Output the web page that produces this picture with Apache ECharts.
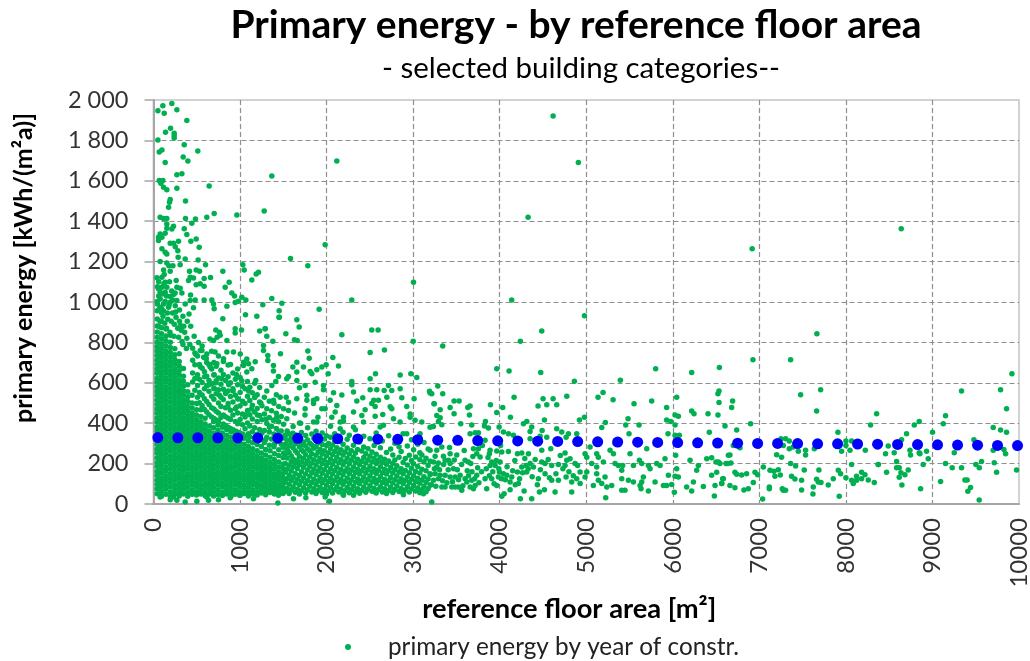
<!DOCTYPE html>
<html><head><meta charset="utf-8">
<script src="https://cdn.jsdelivr.net/npm/echarts@6/dist/echarts.min.js"></script>
<style>html,body{margin:0;padding:0;background:#fff}#c{width:1030px;height:661px}</style>
</head><body><div id="c"></div>
<script>
const trendArea=[50,281,512,743,974,1205,1436,1667,1898,2129,2360,2591,2822,3053,3284,3515,3746,3977,4208,4439,4670,4901,5132,5363,5594,5825,6056,6287,6518,6749,6980,7211,7442,7673,7904,8135,8366,8597,8828,9059,9290,9521,9752,9983];
const trendEnergy=[329,328,328,328,327,327,326,325,324,323,322,321,320,318,316,315,314,313,312,311,310,309,308,307,306,305,304,303,302,301,300,300,299,298,298,297,296,295,294,293,292,291,290,289];
const coreColumns=[
[43,[51,74,96,117,141,161,186,205,229,252,271,295,315,339,361,381,405,426,449,470,493,513,537,558,581,603,623,647,668,691,712,735,757,778,801,826,852,881,916,957,1003]],
[92,[38,62,85,107,129,152,172,196,216,240,261,283,306,327,351,371,394,415,438,459,482,504,526,548,570,592,614,636,658,681,702,725,747,770,793,818,843,873,905,948]],
[143,[48,73,95,118,140,163,183,207,227,250,272,294,316,338,360,382,404,427,449,471,493,515,537,560,581,604,625,648,669,691,714,737,759,783,808,832,866]],
[194,[37,60,84,106,128,150,173,195,217,239,262,283,305,328,349,372,394,416,438,460,482,505,527,549,571,593,615,637,660,682,704,727,750,775,801,836]],
[246,[49,72,94,117,139,161,184,206,228,250,273,294,316,339,361,382,405,427,449,471,494,515,537,559,582,604,626,648,670,693,715,739,768]],
[297,[40,61,83,105,128,150,172,194,216,238,261,283,305,327,349,371,393,416,438,460,482,504,527,549,571,593,615,638,660,683,706,744]],
[346,[50,73,95,116,139,162,183,205,227,250,272,293,315,338,360,382,404,426,449,471,493,515,538,561,584,608,633,671]],
[396,[38,60,83,106,127,149,172,194,216,239,260,282,305,326,349,371,394,416,438,461,483,507,531,556,590]],
[446,[48,71,94,116,138,161,182,205,227,249,271,293,316,338,360,382,405,428,451,475,500,538]],
[497,[44,61,84,105,127,150,172,194,216,238,260,283,305,327,349,371,394,417,441,466,498]],
[547,[49,72,94,117,138,160,183,205,227,249,272,294,316,338,361,384,407,433,466]],
[596,[41,60,83,105,128,149,171,194,216,238,260,282,304,327,349,372,396,424]],
[646,[50,72,95,116,139,161,183,205,227,250,271,294,316,338,361,386]],
[695,[39,61,83,106,127,150,172,194,216,238,260,283,305,327,350,377,408]],
[745,[47,71,94,116,138,160,183,205,227,249,272,293,316,339,364,391]],
[796,[42,60,84,105,128,150,171,194,216,238,260,282,305,328,352,380]],
[846,[50,72,94,117,139,161,182,205,227,249,271,294,316,340,369]],
[895,[38,61,83,106,127,150,172,193,216,238,261,283,306,331,358]],
[945,[48,71,95,116,138,160,183,205,226,249,272,294,317,345]],
[996,[43,60,83,105,128,149,171,194,216,238,260,283,307,334]],
[1046,[52,72,94,117,139,161,183,205,227,250,272,296,325]],
[1096,[40,60,83,106,128,150,172,194,216,239,261,285,312,348]],
[1146,[50,71,95,116,138,160,183,205,228,250,274,303]],
[1197,[45,61,84,105,127,149,172,194,216,239,263,294]],
[1246,[54,72,94,117,139,161,183,205,228,252,285]],
[1296,[46,62,83,106,128,150,172,194,217,242,270,318]],
[1346,[57,73,95,116,138,161,183,206,231,263]],
[1396,[50,64,84,105,127,149,172,195,220,249,296]],
[1447,[60,75,95,117,139,160,183,208,240]],
[1497,[52,66,86,106,128,150,174,197,229,281]]
];
const shoulderColumns=[
[452,[604,648,712,771]],[478,[563,621,689,748]],[509,[528,587,640,733]],[531,[501,552,618,690]],[562,[487,540,601,672,782]],[589,[468,521,570,655,724]],[615,[455,507,585,633,700]],[641,[442,493,558,612,689]],[672,[431,476,533,597,668,756]],[698,[423,470,518,574,638,701]],[724,[416,459,546,610,682]],[751,[409,450,500,566,624,733]],[779,[428,483,529,593,662]],[807,[396,441,517,568,641,705]],[833,[388,432,476,547,611]],[862,[380,425,498,559,630,688]],[889,[374,418,464,532,600]],[918,[368,441,505,571,648]],[946,[362,409,472,538,617]],[972,[356,397,451,521,590,668]],[1001,[350,418,486,552,626]],[1029,[346,392,445,509,583]],[1058,[372,431,497,571]],[1086,[338,401,463,534,606]],[1113,[332,386,442,512,578]],[1142,[358,421,489,551]],[1169,[327,377,455,527,598]],[1198,[345,409,473,541]],[1226,[318,369,438,505,577]],[1253,[352,417,486]],[1281,[304,364,446,528]],[1309,[331,399,471,560]],[1338,[291,356,428,509]],[1364,[322,385,462]],[1392,[283,347,416,499]],[1419,[309,374,449,541]],[1447,[268,338,407,483]],[1476,[296,361,433]],[1503,[252,327,395,472]]
];
const fringeColumns=[
[1522,[63,108,159,201,247,296,338]],[1544,[77,126,173,228,271,315,362]],[1567,[52,98,144,192,255,288,347]],[1591,[69,118,165,211,239,304,326]],[1613,[84,133,185,223,278,319,384]],[1638,[58,104,151,202,263,298,343]],[1661,[73,122,176,216,252,311]],[1686,[49,95,141,196,235,284,332,401]],[1709,[66,113,160,208,268,293,354]],[1733,[81,129,182,226,259,307]],[1758,[55,101,148,199,244,287,339]],[1781,[70,116,168,214,272,317,378]],[1806,[88,137,186,231,263,301]],[1829,[60,107,155,203,249,292,346]],[1853,[75,123,172,219,276,325]],[1878,[52,97,146,193,241,285,360]],[1902,[67,114,163,210,257,303,335]],[1925,[83,131,179,227,270,316]],[1949,[57,105,152,201,248,295,352]],[1973,[72,120,169,217,264,322]],[1998,[48,93,140,191,238,289,338]],[2022,[65,111,158,206,254,299]],[2046,[80,128,175,223,274,330,385]],[2069,[55,102,149,197,245,292]],[2094,[70,118,166,213,260,309,348]],[2118,[86,134,182,231,279]],[2141,[59,106,153,204,252,326]],[2166,[74,122,171,219,268]],[2190,[50,98,145,194,242,296,355]],[2213,[66,113,162,209,258]],[2238,[82,129,177,226,277,320]],[2262,[56,103,151,199,247,340]],[2285,[71,119,167,216,264]],[2310,[88,136,183,233,291]],[2333,[61,108,156,204,253,368]],[2358,[76,124,172,221,270]],[2381,[53,100,148,196,307]],[2406,[68,116,164,212,262]],[2429,[84,132,181,230,282,335]],[2453,[58,105,154,203,249]],[2478,[73,121,169,218,274]],[2501,[90,138,186,237,323]],[2525,[63,110,159,208,258]],[2549,[78,126,175,225,290]],[2573,[55,103,151,200,246,352]],[2597,[70,118,167,215]],[2621,[86,135,184,232,279]],[2644,[60,107,155,205,312]],[2669,[75,123,172,221]],[2692,[52,99,148,197,255]],[2717,[67,115,164,213,338]],[2740,[83,131,181,272]],[2765,[57,104,153,201,243]],[2789,[72,120,169,218,301]],[2812,[89,138,188]],[2837,[62,110,158,232,284]],[2861,[77,125,174,260]],[2884,[54,101,150,206,348]],[2909,[69,117,166,225]],[2933,[85,134,193,287]],[2956,[59,106,155,241]],[2981,[74,122,177,215,318]],[3005,[91,140,199,268]],[3029,[64,112,161,233]],[3053,[79,127,186,296]],[3077,[56,103,154,219,254]],[3101,[71,119,172,243]],[3125,[87,135,208,305]],[3149,[61,108,165,227]],[3173,[76,124,191,272]],[3197,[94,146,212]]
];
const upperPoints=[[212,1983],[108,1972],[51,1947],[124,1934],[270,1952],[385,1898],[197,1860],[139,1840],[239,1835],[239,1823],[239,1812],[51,1802],[355,1779],[512,1748],[97,1752],[66,1743],[343,1718],[397,1698],[135,1691],[2118,1698],[328,1635],[270,1630],[1367,1624],[66,1601],[108,1601],[85,1588],[116,1568],[154,1556],[270,1563],[643,1574],[193,1508],[185,1494],[370,1500],[174,1469],[1279,1451],[701,1438],[963,1431],[616,1419],[77,1419],[116,1413],[154,1413],[370,1413],[485,1411],[443,1390],[154,1386],[231,1375],[212,1362],[154,1365],[355,1363],[385,1334],[135,1340],[77,1337],[58,1320],[97,1320],[493,1312],[432,1301],[58,1304],[289,1301],[193,1291],[231,1291],[251,1274],[528,1271],[97,1263],[135,1246],[281,1254],[154,1238],[285,1221],[366,1213],[516,1208],[1583,1215],[1983,1284],[77,1200],[154,1193],[178,1180],[224,1180],[308,1185],[601,1184],[1032,1185],[1048,1159],[1783,1179],[116,1159],[193,1152],[416,1152],[493,1159],[532,1152],[801,1152],[1213,1147],[1186,1139],[124,1136],[97,1123],[424,1123],[462,1119],[405,1106],[585,1116],[659,1121],[1136,1109],[262,1106],[135,1098],[874,1098],[828,1073],[3004,1098],[493,1085],[539,1090],[585,1078],[308,1068],[58,1065],[97,1073],[154,1073],[270,1073],[905,1045],[936,1030],[428,1035],[231,1037],[328,1045],[77,1048],[135,1048],[193,1027],[1021,1024],[585,1010],[674,1010],[1067,1010],[1367,1017],[2291,1010],[1483,994],[1263,987],[982,1004],[944,997],[424,1007],[482,1010],[366,990],[848,979],[693,990],[701,966],[1914,964],[1452,957],[77,1015],[116,990],[174,974],[251,982],[462,971],[77,974],[270,1007],[193,999],[135,1002],[300,960],[340,930],[390,905],[430,880],[310,885],[260,925],[410,940],[360,850],[470,830],[520,800],[420,790],[560,760],[610,720],[490,740],[650,690],[540,680],[590,630],[700,640],[640,590],[720,600],[60,880],[75,905],[110,930],[130,895],[165,915],[205,905],[240,890],[280,870],[320,860],[60,1030],[100,1040],[150,1030],[210,1055],[250,1045],[120,1090],[70,965],[115,955],[160,945],[220,945],[95,965],[150,870],[190,850],[235,830],[290,825],[330,805],[385,820],[340,790],[45,1075],[45,990],[180,985],[40,1120],[60,1100],[185,1100],[220,1010],[255,950],[300,905],[350,880],[380,770]];
const midPoints=[[1063,937],[1194,930],[1452,925],[1452,925],[1656,912],[1683,876],[801,917],[1290,867],[1227,856],[1290,868],[1017,862],[944,867],[944,846],[1309,831],[1529,843],[1629,813],[1660,810],[1379,806],[2176,838],[2522,862],[2595,862],[3000,806],[1783,757],[1467,744],[2503,750],[2668,762],[1271,785],[1271,760],[1799,721],[2072,725],[1321,735],[1321,711],[1656,702],[1610,678],[1733,678],[2137,683],[1995,689],[1386,686],[1386,658],[1810,656],[1829,645],[1887,665],[1945,678],[2018,645],[1656,653],[1444,631],[1540,620],[1560,631],[2565,645],[2503,620],[2850,638],[2973,645],[3042,626],[1175,704],[1078,718],[1098,694],[1040,702],[1040,686],[1136,670],[1078,653],[1182,612],[1656,612],[1413,607],[1367,587],[1868,603],[1752,587],[1964,587],[1964,566],[2291,606],[2291,590],[1687,575],[2080,551],[2503,566],[2580,566],[2715,587],[2665,562],[2753,562],[2850,570],[3189,558],[3215,546],[2176,539],[2311,554],[2418,526],[2349,510],[2545,513],[2522,497],[2561,483],[2599,513],[2869,526],[2696,529],[3011,521],[3242,496],[2926,483],[2735,481],[2753,471],[1656,521],[1772,538],[1772,513],[1849,513],[1887,521],[1849,497],[1752,472],[2041,513],[2118,488],[1945,472],[1983,472],[1533,529],[1463,529],[1386,513],[1560,504],[1560,463],[2060,430],[2099,455],[2311,455],[2445,467],[2195,430],[2195,410],[2157,406],[2407,438],[2426,406],[2561,434],[2649,443],[2773,422],[2849,406],[2965,446],[2965,430],[3022,414],[3100,406],[3273,438],[2657,390],[2619,381],[2311,381],[2157,373],[1849,406],[1887,406],[3195,380],[3234,384],[2926,348],[3080,348],[1425,430],[1386,413],[1540,422],[1630,450],[1700,400],[1750,440],[1900,430],[720,861],[760,850],[770,835],[735,825],[695,810],[653,817],[848,810],[540,760],[580,726],[616,743],[712,752],[848,752],[924,752],[809,719],[732,694],[655,678],[1002,743],[890,690],[960,640],[1020,610],[870,590],[790,620],[700,570],[760,540],[920,560],[980,520],[1100,560],[1170,530],[1240,500],[1130,470],[1060,440],[960,480],[860,480],[1300,420],[1200,440],[1340,380],[1450,360],[1520,340],[1610,350]];
const lowerPoints=[[4979,932],[4486,856],[4239,806],[3342,782],[3966,670],[4108,658],[4474,651],[4863,608],[5394,613],[5802,670],[6218,651],[6538,676],[3285,584],[3196,549],[3342,546],[4166,528],[4501,521],[4617,521],[4775,533],[5194,552],[5136,528],[5310,516],[5756,510],[5552,496],[6045,528],[6534,559],[6522,546],[6534,503],[3473,510],[3531,510],[3242,496],[4443,485],[4544,491],[4659,491],[3893,491],[3658,485],[3631,478],[3427,478],[4035,478],[3312,467],[3966,453],[3473,447],[3650,440],[5929,478],[6218,460],[6245,447],[6407,447],[6522,440],[6026,440],[6064,434],[4124,429],[3312,427],[3292,409],[4517,416],[4921,416],[4979,429],[5483,422],[5929,416],[5976,409],[3550,397],[3835,409],[4313,409],[4274,397],[3677,391],[3824,386],[3870,376],[3993,381],[4370,381],[4351,359],[4490,364],[5221,404],[5179,379],[5456,391],[5610,391],[6026,391],[6603,386],[4659,373],[4717,356],[4794,348],[4890,348],[3227,384],[3331,392],[5945,348],[6026,340],[6076,340],[6422,355],[5494,348],[3658,348],[3716,353],[3754,353],[4043,356],[4101,348],[4159,340],[4544,331],[4467,336],[4351,323],[4767,331],[3427,249],[3504,242],[3331,282],[3273,266],[3196,266],[3254,237],[3350,237],[3427,200],[3235,208],[3292,203],[3369,216],[3408,216],[3273,183],[3196,150],[3254,150],[3312,142],[3369,142],[3235,117],[3292,125],[3331,84],[3369,84],[3466,175],[3427,134],[3485,134],[3543,142],[3446,84],[3485,84],[3523,84],[3562,68],[3600,125],[3620,109],[3658,84],[3697,76],[3677,117],[3716,92],[3735,142],[3639,208],[3600,216],[3666,200],[3774,233],[3735,249],[3697,274],[3754,274],[3831,315],[3831,125],[3908,125],[3850,76],[3889,266],[3966,262],[3881,249],[4024,257],[3908,208],[3889,191],[4004,208],[3947,191],[3997,158],[4043,150],[4082,142],[4139,134],[4120,109],[3985,134],[4024,125],[3966,92],[4051,51],[4024,38],[4120,71],[4216,101],[4282,64],[4239,26],[4370,26],[4459,59],[4517,71],[4640,59],[4832,59],[4205,158],[4255,183],[4305,191],[4351,200],[4205,249],[4255,252],[4332,249],[4486,266],[4590,274],[4755,252],[4486,208],[4524,200],[4601,191],[4678,196],[4775,216],[4813,224],[4871,200],[4755,191],[4312,158],[4390,183],[4447,125],[4524,150],[4601,117],[4678,117],[4767,134],[4890,125],[4832,109],[4929,158],[5006,158],[4986,134],[4929,101],[5082,92],[5121,150],[5140,117],[5179,101],[5217,134],[5237,84],[5294,92],[5225,31],[5410,68],[5448,68],[5410,125],[5487,117],[5545,109],[5622,92],[5633,76],[5718,64],[5795,109],[5892,92],[5929,92],[5987,97],[6018,58],[6160,84],[6218,64],[6238,109],[6353,87],[6480,40],[6488,92],[6576,125],[6565,101],[6045,175],[5949,142],[6026,137],[6064,134],[5853,191],[5910,224],[5814,200],[5699,274],[5718,191],[5737,175],[5660,134],[5641,109],[5545,191],[5614,216],[5641,200],[5506,249],[5314,249],[5275,266],[5333,299],[5333,200],[5371,191],[5421,191],[5410,167],[5121,249],[5140,232],[5044,282],[4986,249],[5063,200],[5198,208],[5006,232],[5121,183],[6295,191],[6276,167],[6449,229],[6392,224],[6499,208],[6526,208],[6634,200],[6449,142],[6507,157],[6642,241],[6199,216],[6033,241]];
const farPoints=[[4617,1921],[4909,1691],[4328,1419],[4139,1010],[6917,1264],[8639,1363],[7665,843],[6926,714],[7361,714],[9918,645],[7708,566],[9787,566],[9336,559],[7477,541],[6691,510],[6680,478],[7662,460],[9856,472],[8355,447],[9151,437],[8847,409],[8790,391],[8285,391],[9125,397],[6899,397],[6738,366],[9702,379],[9787,366],[9856,355],[7908,355],[9001,355],[8701,348],[7250,323],[7303,323],[7346,312],[8643,318],[9479,318],[6699,290],[6776,279],[7346,274],[7392,282],[7450,261],[7534,266],[7534,242],[7635,274],[7277,290],[7200,244],[7257,231],[6660,242],[8000,312],[8066,312],[8000,290],[8047,266],[7950,261],[8224,266],[8489,287],[8458,249],[8558,254],[8740,266],[8747,242],[8847,254],[8855,249],[8932,261],[8951,224],[9252,254],[9702,266],[9825,270],[9845,249],[8586,211],[8893,195],[8066,195],[8374,195],[8374,195],[9151,200],[9228,180],[9336,180],[9567,211],[9502,195],[9541,180],[9714,204],[9741,157],[9972,168],[6614,200],[6672,203],[6545,200],[7046,183],[7123,167],[7169,162],[7219,170],[7180,137],[7242,144],[6950,157],[6980,145],[6718,157],[6738,147],[6795,144],[6853,150],[7372,137],[7411,124],[7361,200],[7419,188],[7519,168],[7488,117],[7688,168],[7661,122],[7681,109],[7623,84],[7712,106],[7796,94],[7854,125],[7912,167],[7939,150],[8000,130],[8066,117],[8085,101],[8123,137],[8123,117],[8181,157],[8220,145],[8181,125],[8258,119],[8328,106],[8470,157],[8586,180],[8616,180],[8636,155],[8616,132],[8682,145],[8720,168],[8647,94],[8863,76],[9094,112],[9375,119],[9401,119],[9440,82],[9409,63],[9540,20],[7115,76],[7115,84],[7277,68],[7265,76],[7303,68],[7488,69],[7619,49],[7923,38],[7038,25],[6930,106],[6822,69],[6872,76],[6718,81],[6660,92],[6584,125],[6565,101]];
const baselinePoints=[[501,13],[1437,5],[3215,10],[270,18],[366,10],[636,18],[751,21],[886,31],[1155,26],[1444,43],[1617,26],[1760,31],[1983,35],[2033,13],[2195,43],[2311,43],[2561,59],[2888,46],[3119,51],[232,35],[193,21],[77,35],[617,35],[1001,43]];
const bandPoints=[[3210,95],[3245,175],[3262,88],[3305,170],[3340,115],[3352,195],[3390,105],[3405,170],[3420,280],[3455,110],[3475,218],[3510,170],[3525,120],[3560,195],[3575,90],[3590,265],[3625,165],[3640,140],[3680,160],[3690,235],[3710,125],[3745,180],[3760,105],[3790,160],[3800,290],[3845,175],[3865,230],[3880,140],[3920,160],[3935,100],[3960,215],[3990,175],[4010,290],[4065,120],[4085,185],[4100,260],[4150,165],[4175,215],[4180,95],[4230,125],[4265,155],[4290,225],[4330,175],[4375,135],[4410,220],[4435,95],[4470,170],[4560,220],[4575,130],[4650,150],[4700,240],[4730,175],[4800,160],[4850,140],[4900,190]];
const yTickLabel=v=>String(v).replace(/\B(?=(\d{3})+$)/g,' ');
const cloud=[];
[coreColumns,shoulderColumns,fringeColumns].forEach(cols=>cols.forEach(([x,ys])=>ys.forEach(y=>cloud.push([x,y]))));
const measured=cloud.concat(upperPoints,midPoints,lowerPoints,farPoints,baselinePoints,bandPoints);
const trend=trendArea.map((x,i)=>[x,trendEnergy[i]]);
const grey='#a6a6a6',gridGrey='#8e8e8e',labelColor='#333';
const chart=echarts.init(document.getElementById('c'),null,{renderer:'canvas'});
chart.setOption({
 animation:false,
 backgroundColor:'#fff',
 title:[
  {text:'Primary energy - by reference floor area',left:571,top:1,textAlign:'center',textStyle:{fontFamily:'Lato',fontWeight:'bold',fontSize:39,color:'#000'}},
  {text:'- selected building categories--',left:576,top:48,textAlign:'center',textStyle:{fontFamily:'Lato',fontWeight:'normal',fontSize:29.5,color:'#000'}}
 ],
 legend:{left:340,top:630,data:['primary energy by year of constr.'],icon:'circle',itemWidth:6,itemHeight:6,itemGap:0,
  textStyle:{fontFamily:'Lato',fontSize:24.3,color:'#222',padding:[0,0,0,32]}},
 grid:{left:153.5,right:11,top:100,bottom:157,show:true,borderColor:'#d2d2d2',borderWidth:2,backgroundColor:'#fff',outerBoundsMode:'none'},
 xAxis:{type:'value',min:0,max:10000,interval:1000,name:'reference floor area [m²]',nameLocation:'middle',nameGap:85,
  nameTextStyle:{fontFamily:'Lato',fontWeight:'bold',fontSize:27.3,color:'#000',padding:[0,34,0,0]},
  axisLine:{show:true,onZero:false,lineStyle:{color:grey,width:2}},axisTick:{show:false},
  axisLabel:{rotate:90,margin:14,fontFamily:'Lato',fontSize:24,color:labelColor,showMaxLabel:true,showMinLabel:true,formatter:v=>String(v)},
  splitLine:{show:true,showMinLine:false,showMaxLine:false,lineStyle:{color:gridGrey,width:1.2,type:[5,3]}}},
 yAxis:{type:'value',min:0,max:2000,interval:200,name:'primary energy [kWh/(m²a)]',nameLocation:'middle',nameGap:117,
  nameTextStyle:{fontFamily:'Lato',fontWeight:'bold',fontSize:25,color:'#000',padding:[0,0,0,68]},
  axisLine:{show:true,onZero:false,lineStyle:{color:grey,width:2}},axisTick:{show:true,length:9,lineStyle:{color:grey,width:1.5}},
  axisLabel:{margin:25,fontFamily:'Lato',fontSize:23.5,color:labelColor,formatter:yTickLabel},
  splitLine:{show:true,showMinLine:false,showMaxLine:false,lineStyle:{color:gridGrey,width:1.2,type:[5,3]}}},
 series:[
  {name:'primary energy by year of constr.',type:'scatter',data:measured,symbolSize:5.5,itemStyle:{color:'#00B050',opacity:1},clip:false,progressive:0,large:false,silent:true,z:2},
  {name:'trend',type:'scatter',data:trend,symbolSize:11,itemStyle:{color:'#0000FF',opacity:1},clip:false,silent:true,z:3}
 ]
});
</script></body></html>
